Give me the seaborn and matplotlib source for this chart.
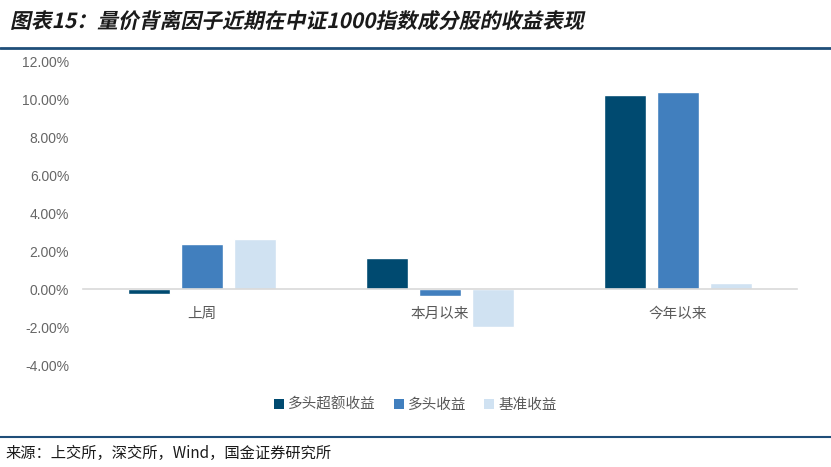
import matplotlib
matplotlib.use("Agg")
import matplotlib.pyplot as plt
import numpy as np
import pandas as pd
import seaborn as sns
from matplotlib.lines import Line2D
from matplotlib.patches import Patch
from matplotlib.patheffects import AbstractPathEffect
from matplotlib.ticker import FuncFormatter, FixedLocator
from matplotlib.transforms import Affine2D

periods = ["上周", "本月以来", "今年以来"]
series = ["多头超额收益", "多头收益", "基准收益"]
excess = [-0.25, 1.65, 10.2]
long_ret = [2.38, -0.35, 10.37]
bench = [2.63, -2.0, 0.33]
colors = ["#004a70", "#417fbe", "#d0e2f2"]

title = "图表15：量价背离因子近期在中证1000指数成分股的收益表现"
source = "来源：上交所，深交所，Wind，国金证券研究所"


class Oblique(AbstractPathEffect):
    # fake italic: shear the glyph paths before drawing
    def __init__(self, angle=12):
        super().__init__()
        self.angle = angle

    def draw_path(self, renderer, gc, tpath, affine, rgbFace=None):
        skewed = Affine2D().skew_deg(self.angle, 0) + affine
        renderer.draw_path(gc, tpath, skewed, rgbFace)


sns.set_theme(style="white")
plt.rcParams["font.family"] = ["Liberation Sans", "Noto Sans CJK SC", "DejaVu Sans"]

rows = []
for name, vals in zip(series, [excess, long_ret, bench]):
    for period, v in zip(periods, vals):
        rows.append({"period": period, "series": name, "value": v})
df = pd.DataFrame(rows)

fig = plt.figure(figsize=(8.31, 4.67), dpi=100)
ax = fig.add_axes([0.1, 0.218, 0.859, 0.651])

sns.barplot(
    data=df, x="period", y="value", hue="series",
    order=periods, hue_order=series, palette=colors, saturation=1,
    width=0.667, gap=0.2, ax=ax, legend=False, errorbar=None,
)

ax.set_ylim(-4, 12)
ax.set_xlim(-0.5, 2.5)
ax.set_yticks(np.arange(-4, 12.1, 2))
ax.yaxis.set_major_formatter(FuncFormatter(lambda v, _: f"{v:.2f}%"))
ax.set_xlabel("")
ax.set_ylabel("")

for side in ["top", "right", "left"]:
    ax.spines[side].set_visible(False)
ax.spines["bottom"].set_position(("data", 0))
ax.spines["bottom"].set_color("#d9d9d9")
ax.spines["bottom"].set_linewidth(1.2)
ax.set_axisbelow(False)

ax.tick_params(axis="y", length=0, pad=10, labelsize=10, labelcolor="#666666")
ax.tick_params(axis="x", which="major", length=0, pad=13, labelsize=10.5, labelcolor="#595959")
ax.xaxis.set_minor_locator(FixedLocator([-0.5, 0.5, 1.5, 2.5]))
ax.tick_params(axis="x", which="minor", direction="in", length=4, color="#d9d9d9", width=1.2)

handles = [Patch(facecolor=c, edgecolor="none") for c in colors]
fig.legend(
    handles, series, loc="center", bbox_to_anchor=(0.5, 0.133), ncol=3,
    frameon=False, fontsize=10.5, labelcolor="#595959",
    handlelength=0.7, handleheight=0.7, handletextpad=0.3, columnspacing=1.2,
)

fig.text(
    0.012, 0.94, title, fontsize=15, fontweight="bold", color="#1a1a1a",
    family=["Noto Sans CJK SC", "DejaVu Sans"], va="baseline",
    path_effects=[Oblique(12)],
)
fig.add_artist(Line2D([0, 1], [0.897, 0.897], transform=fig.transFigure, color="#1f4e79", lw=2))
fig.add_artist(Line2D([0, 1], [0.064, 0.064], transform=fig.transFigure, color="#1f4e79", lw=1.5))
fig.text(
    0.006, 0.029, source, fontsize=11, color="#1a1a1a",
    family=["Noto Sans CJK SC", "DejaVu Sans"], va="center",
)

fig.savefig("out.png", dpi=100)
